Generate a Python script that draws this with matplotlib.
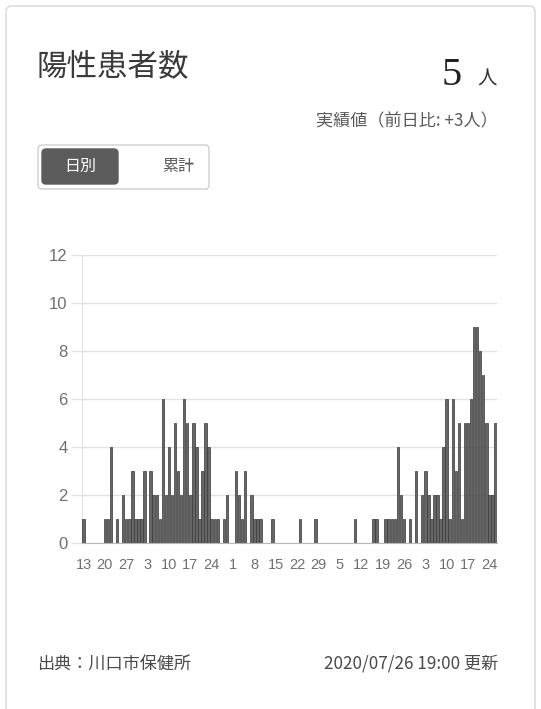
import matplotlib
matplotlib.use("Agg")
import matplotlib.pyplot as plt
from matplotlib.patches import FancyBboxPatch
import numpy as np
import pandas as pd

# daily positive cases, Kawaguchi city, 2020-03-13 .. 2020-07-26
dates = pd.date_range("2020-03-13", "2020-07-26", freq="D")
cases = [
    1, 0, 0, 0, 0, 0, 0, 1, 1, 4, 0, 1, 0, 2, 1, 1, 3, 1, 1, 1,   # 3/13 - 4/1
    3, 0, 3, 2, 2, 1, 6, 2, 4, 2, 5, 3, 2, 6, 5, 2, 5, 4, 1, 3,   # 4/2 - 4/21
    5, 4, 1, 1, 1, 0, 1, 2, 0, 0, 3, 2, 1, 3, 0, 2, 1, 1, 1, 0,   # 4/22 - 5/11
    0, 0, 1, 0, 0, 0, 0, 0, 0, 0, 0, 1, 0, 0, 0, 0, 1, 0, 0, 0,   # 5/12 - 5/31
    0, 0, 0, 0, 0, 0, 0, 0, 0, 1, 0, 0, 0, 0, 0, 1, 1, 0, 0, 1,   # 6/1 - 6/20
    1, 1, 1, 4, 2, 1, 0, 1, 0, 3, 0, 2, 3, 2, 1, 2, 2, 1, 4, 6,   # 6/21 - 7/10
    1, 6, 3, 5, 1, 5, 5, 6, 9, 9, 8, 7, 5, 2, 2, 5,               # 7/11 - 7/26
]
y_ticks = [0, 2, 4, 6, 8, 10, 12]
tick_every = 7

title = "陽性患者数"
latest_value = "5"
latest_unit = "人"
sub_note = "実績値（前日比: +3人）"
btn_labels = ["日別", "累計"]
source_note = "出典：川口市保健所"
updated_note = "2020/07/26 19:00 更新"

W, H = 541, 709
jp = ["Noto Sans CJK JP", "DejaVu Sans"]

fig = plt.figure(figsize=(W / 100, H / 100), dpi=100)
fig.patch.set_facecolor("white")

# background layer in pixel coordinates
bg = fig.add_axes([0, 0, 1, 1], zorder=0)
bg.set_xlim(0, W)
bg.set_ylim(H, 0)
bg.axis("off")

# card border
bg.add_patch(FancyBboxPatch((6, 6), 529, 720, boxstyle="round,pad=0,rounding_size=6",
                            fc="white", ec="#d6d6d6", lw=1.0))

bg.text(37, 67, title, fontsize=22, color="#3a3a3a", family=jp, va="center", ha="left")
bg.text(462, 85, latest_value, fontsize=29, color="#222222", family="Liberation Serif",
        va="baseline", ha="right")
bg.text(497, 85, latest_unit, fontsize=14, color="#333333", family=jp, va="baseline", ha="right")
bg.text(498, 121, sub_note, fontsize=12.3, color="#5a5a5a", family=jp, va="center", ha="right")

# toggle buttons
bg.add_patch(FancyBboxPatch((38, 145), 171, 44, boxstyle="round,pad=0,rounding_size=4",
                            fc="white", ec="#cfcfcf", lw=1.0))
bg.add_patch(FancyBboxPatch((42, 149), 76, 35, boxstyle="round,pad=0,rounding_size=4",
                            fc="#5c5c5c", ec="#5c5c5c", lw=1.0))
bg.text(80, 166.5, btn_labels[0], fontsize=11.5, color="white", family=jp, va="center", ha="center")
bg.text(178, 166.5, btn_labels[1], fontsize=11.5, color="#5a5a5a", family=jp, va="center", ha="center")

bg.text(37, 664, source_note, fontsize=12.3, color="#4a4a4a", family=jp, va="center", ha="left")
bg.text(498, 664, updated_note, fontsize=12.3, color="#4a4a4a", family=jp, va="center", ha="right")

# bar chart
left, right = 82, 497
top, bottom = 254.7, 542.7
ax = fig.add_axes([left / W, 1 - bottom / H, (right - left) / W, (bottom - top) / H], zorder=1)
ax.set_facecolor("none")

x = np.arange(len(dates))
ax.bar(x, cases, width=0.8, color="#666666", edgecolor="#383838", linewidth=0.5, zorder=3)

ax.set_xlim(-0.5, len(dates) - 0.5)
ax.set_ylim(0, 12)
ax.set_yticks(y_ticks)
ax.set_yticklabels([str(v) for v in y_ticks], fontsize=12, color="#707070",
                   family="Liberation Sans")
ax.tick_params(axis="y", length=8, color="#e2e2e2", width=1, pad=2.5)

xt = x[::tick_every]
ax.set_xticks(xt)
ax.set_xticklabels([str(dates[i].day) for i in xt], fontsize=10.5, color="#707070",
                   family="Liberation Sans")
ax.tick_params(axis="x", length=0, pad=11)

ax.grid(axis="y", color="#e2e2e2", linewidth=1, zorder=0)
for s in ["top", "right"]:
    ax.spines[s].set_visible(False)
ax.spines["left"].set_color("#e2e2e2")
ax.spines["bottom"].set_color("#b8b8b8")
ax.spines["bottom"].set_zorder(4)

fig.savefig("out.png", dpi=100, facecolor="white")
